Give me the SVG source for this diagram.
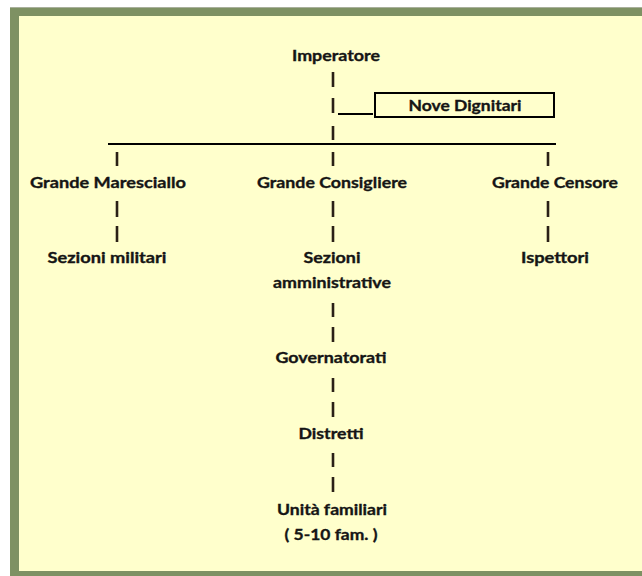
<svg xmlns="http://www.w3.org/2000/svg" width="642" height="576" viewBox="0 0 642 576">
<style>
.t{font-family:Lato,"Liberation Sans",sans-serif;font-weight:bold;font-size:16px;fill:#151515;stroke:#151515;stroke-width:0.35;text-anchor:middle}
.p{stroke:#2a2016;stroke-width:2.6;fill:none}
.l{stroke:#000;stroke-width:2;fill:none}
</style>
<rect x="0" y="0" width="642" height="576" fill="#ffffff"/>
<rect x="10" y="7" width="632" height="1" fill="#a9b09c"/>
<rect x="10" y="8" width="632" height="568" fill="#7e9163"/>
<rect x="19" y="16" width="623" height="555" fill="#ffffcc"/>
<g id="connectors">
<line class="p" x1="333" y1="72" x2="333" y2="87"/>
<line class="p" x1="333" y1="98" x2="333" y2="113"/>
<line class="p" x1="333" y1="126" x2="333" y2="140"/>
<line class="l" x1="338" y1="114" x2="373" y2="114" stroke-width="1.5"/>
<line class="l" x1="108" y1="144" x2="556" y2="144" stroke-width="2.5"/>
<line class="p" x1="117" y1="152" x2="117" y2="166"/>
<line class="p" x1="333" y1="152" x2="333" y2="166"/>
<line class="p" x1="548" y1="152" x2="548" y2="166"/>
<line class="p" x1="117" y1="201" x2="117" y2="217"/>
<line class="p" x1="117" y1="226" x2="117" y2="242"/>
<line class="p" x1="333" y1="201" x2="333" y2="217"/>
<line class="p" x1="333" y1="226" x2="333" y2="242"/>
<line class="p" x1="548" y1="201" x2="548" y2="217"/>
<line class="p" x1="548" y1="226" x2="548" y2="242"/>
<line class="p" x1="333" y1="303" x2="333" y2="317"/>
<line class="p" x1="333" y1="327" x2="333" y2="342"/>
<line class="p" x1="333" y1="378" x2="333" y2="392"/>
<line class="p" x1="333" y1="402" x2="333" y2="417"/>
<line class="p" x1="333" y1="453" x2="333" y2="467"/>
<line class="p" x1="333" y1="477" x2="333" y2="492"/>
</g>
<g id="imperatore"><text class="t" x="336" y="61" textLength="88" lengthAdjust="spacingAndGlyphs">Imperatore</text></g>
<g id="nove-dignitari">
<rect x="375" y="93" width="179" height="24" fill="none" stroke="#000" stroke-width="2"/>
<text class="t" x="465" y="111" textLength="113" lengthAdjust="spacingAndGlyphs">Nove Dignitari</text>
</g>
<g id="grande-maresciallo"><text class="t" x="108" y="188" textLength="156" lengthAdjust="spacingAndGlyphs">Grande Maresciallo</text></g>
<g id="grande-consigliere"><text class="t" x="332" y="188" textLength="150" lengthAdjust="spacingAndGlyphs">Grande Consigliere</text></g>
<g id="grande-censore"><text class="t" x="555" y="188" textLength="126" lengthAdjust="spacingAndGlyphs">Grande Censore</text></g>
<g id="sezioni-militari"><text class="t" x="107" y="263" textLength="119" lengthAdjust="spacingAndGlyphs">Sezioni militari</text></g>
<g id="sezioni-amministrative">
<text class="t" x="332" y="263" textLength="57" lengthAdjust="spacingAndGlyphs">Sezioni</text>
<text class="t" x="332" y="288" textLength="118" lengthAdjust="spacingAndGlyphs">amministrative</text>
</g>
<g id="ispettori"><text class="t" x="555" y="263" textLength="68" lengthAdjust="spacingAndGlyphs">Ispettori</text></g>
<g id="governatorati"><text class="t" x="331" y="363" textLength="111" lengthAdjust="spacingAndGlyphs">Governatorati</text></g>
<g id="distretti"><text class="t" x="331" y="439" textLength="65" lengthAdjust="spacingAndGlyphs">Distretti</text></g>
<g id="unita-familiari">
<text class="t" x="332" y="515" textLength="110" lengthAdjust="spacingAndGlyphs">Unità familiari</text>
<text class="t" x="331" y="540" textLength="93" lengthAdjust="spacingAndGlyphs">( 5-10 fam. )</text>
</g>
</svg>
